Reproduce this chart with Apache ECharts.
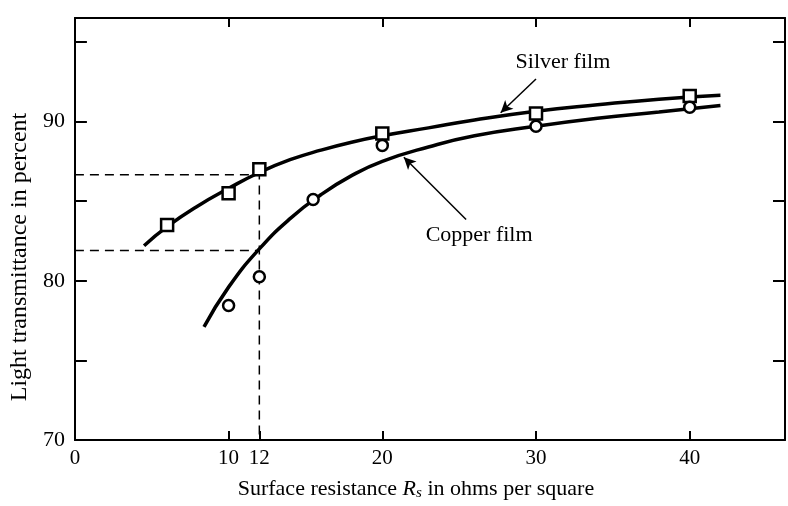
<!DOCTYPE html>
<html>
<head>
<meta charset="utf-8">
<script src="https://cdn.jsdelivr.net/npm/echarts@6/dist/echarts.min.js"></script>
<style>html,body{margin:0;padding:0;background:#fff}#c{width:788px;height:506px}</style>
</head>
<body>
<div id="c"></div>
<script>
// ---- data ----
const xTickLabels = [0, 10, 12, 20, 30, 40];
const xBottomTicks = [10, 12, 20, 30, 40];
const xTopTicks = [10, 20, 30, 40];
const yTickLabels = [70, 80, 90];
const yTicks = [75, 80, 85, 90, 95];

const silverPoints = [[6, 83.5], [10, 85.5], [12, 87.0], [20, 89.25], [30, 90.5], [40, 91.6]];
const copperPoints = [[10, 78.45], [12, 80.25], [15.5, 85.1], [20, 88.5], [30, 89.7], [40, 90.9]];

const silverCurve = [[4.5, 82.2], [6, 83.4], [8, 84.7], [10, 85.8], [12, 86.8], [14, 87.6], [16, 88.2], [18, 88.7], [20, 89.1], [23, 89.6], [26, 90.1], [30, 90.65], [34, 91.05], [38, 91.4], [42, 91.65]];
const copperCurve = [[8.4, 77.1], [10, 79.6], [12, 82.0], [14, 83.9], [16, 85.4], [18, 86.6], [20, 87.5], [23, 88.4], [26, 89.1], [30, 89.7], [34, 90.2], [38, 90.6], [42, 91.0]];

const guideUpper = [[0, 86.65], [12, 86.65], [12, 70]];
const guideLower = [[0, 81.9], [12, 81.9]];

const silverLabel = { text: 'Silver film', at: [31.75, 93.75], arrowFrom: [30.0, 92.67], arrowTo: [27.7, 90.55] };
const copperLabel = { text: 'Copper film', at: [26.3, 82.86], arrowFrom: [25.45, 83.85], arrowTo: [21.4, 87.75] };

// ---- chart ----
const FONT = '"Liberation Serif", "DejaVu Serif", serif';
const INK = '#000';
const chart = echarts.init(document.getElementById('c'), null, { renderer: 'canvas' });

const frameLine = { show: true, onZero: false, lineStyle: { color: INK, width: 2 } };
const inTick = (vals, len) => ({ show: true, inside: true, length: len, customValues: vals, lineStyle: { color: INK, width: 2 } });

const option = {
  animation: false,
  backgroundColor: '#fff',
  grid: { left: 73, right: 3, top: 18, bottom: 61, containLabel: false },
  xAxis: [
    {
      type: 'value', position: 'bottom', min: 0, max: 46.2,
      axisLine: frameLine, axisTick: inTick(xBottomTicks, 9),
      splitLine: { show: false },
      axisLabel: { customValues: xTickLabels, color: INK, fontFamily: FONT, fontSize: 21, margin: 8 },
      name: 'Surface resistance {i|R}{sub|s} in ohms per square',
      nameLocation: 'middle', nameGap: 37,
      nameTextStyle: {
        color: INK, fontFamily: FONT, fontSize: 22, padding: [0, 28, 0, 0],
        rich: {
          i: { fontFamily: FONT, fontSize: 22, fontStyle: 'italic', color: INK },
          sub: { fontFamily: FONT, fontSize: 15, fontStyle: 'italic', color: INK, verticalAlign: 'bottom', padding: [9, 0, 0, 0] }
        }
      }
    },
    {
      type: 'value', position: 'top', min: 0, max: 46.2,
      axisLine: frameLine, axisTick: inTick(xTopTicks, 9),
      splitLine: { show: false }, axisLabel: { show: false }
    }
  ],
  yAxis: [
    {
      type: 'value', position: 'left', min: 70, max: 96.5,
      axisLine: frameLine, axisTick: inTick(yTicks, 12),
      splitLine: { show: false },
      axisLabel: { customValues: yTickLabels, color: INK, fontFamily: FONT, fontSize: 22, margin: 10 },
      name: 'Light transmittance in percent',
      nameLocation: 'middle', nameGap: 42, nameRotate: 90,
      nameTextStyle: { color: INK, fontFamily: FONT, fontSize: 24, padding: [0, 56, 0, 0] }
    },
    {
      type: 'value', position: 'right', min: 70, max: 96.5,
      axisLine: frameLine, axisTick: inTick(yTicks, 12),
      splitLine: { show: false }, axisLabel: { show: false }
    }
  ],
  series: [
    {
      name: 'guideUpper', type: 'line', data: guideUpper, symbol: 'none', silent: true,
      lineStyle: { color: INK, width: 1.5, type: [9, 6] }, z: 1
    },
    {
      name: 'guideLower', type: 'line', data: guideLower, symbol: 'none', silent: true,
      lineStyle: { color: INK, width: 1.5, type: [9, 6] }, z: 1
    },
    {
      name: 'Silver curve', type: 'line', data: silverCurve, smooth: 0.5, symbol: 'none',
      lineStyle: { color: INK, width: 3.5 }, z: 2
    },
    {
      name: 'Copper curve', type: 'line', data: copperCurve, smooth: 0.5, symbol: 'none',
      lineStyle: { color: INK, width: 3.5 }, z: 2
    },
    {
      name: 'Silver film', type: 'scatter', data: silverPoints, symbol: 'rect', symbolSize: 12,
      itemStyle: { color: '#fff', borderColor: INK, borderWidth: 2.5, opacity: 1 }, z: 3
    },
    {
      name: 'Copper film', type: 'scatter', data: copperPoints, symbol: 'circle', symbolSize: 11,
      itemStyle: { color: '#fff', borderColor: INK, borderWidth: 2.5, opacity: 1 }, z: 3
    },
    {
      name: 'annotations', type: 'scatter', symbolSize: 0, silent: true, z: 4,
      itemStyle: { opacity: 1, color: INK },
      data: [
        { value: silverLabel.at, label: { show: true, formatter: silverLabel.text } },
        { value: copperLabel.at, label: { show: true, formatter: copperLabel.text } }
      ],
      label: { position: 'inside', color: INK, opacity: 1, fontFamily: FONT, fontSize: 22 },
      markLine: {
        silent: true, symbol: ['none', 'arrow'], symbolSize: [9, 12],
        label: { show: false },
        lineStyle: { color: INK, width: 1.5, type: 'solid', opacity: 1 },
        data: [
          [{ coord: silverLabel.arrowFrom }, { coord: silverLabel.arrowTo }],
          [{ coord: copperLabel.arrowFrom }, { coord: copperLabel.arrowTo }]
        ]
      }
    }
  ]
};
chart.setOption(option);
</script>
</body>
</html>
